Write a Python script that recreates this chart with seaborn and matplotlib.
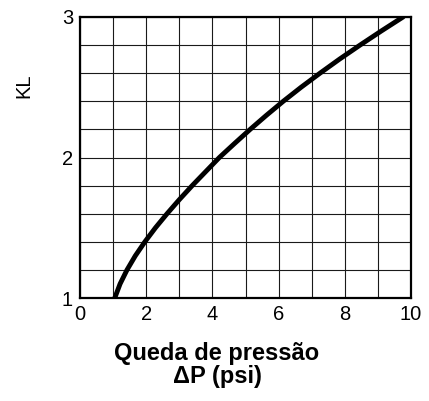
import matplotlib
matplotlib.use("Agg")
import matplotlib.pyplot as plt
from matplotlib.ticker import MultipleLocator
import seaborn as sns

# values
delta_p = [1.05, 1.21, 1.42, 1.67, 1.96, 2.28, 2.63, 3.00, 3.39, 3.80, 4.21,
           4.67, 5.14, 5.63, 6.14, 6.68, 7.25, 7.84, 8.46, 9.10, 9.76]
kl = [1.0, 1.1, 1.2, 1.3, 1.4, 1.5, 1.6, 1.7, 1.8, 1.9, 2.0,
      2.1, 2.2, 2.3, 2.4, 2.5, 2.6, 2.7, 2.8, 2.9, 3.0]
x_ticks = [0, 2, 4, 6, 8, 10]
y_ticks = [1, 2, 3]

sns.set_style("white")
plt.rcParams['font.family'] = ['Liberation Sans', 'DejaVu Sans']

fig = plt.figure(figsize=(4.29, 4.01), dpi=100)
ax = fig.add_axes([80 / 429, 1 - 298 / 401, 331 / 429, 281 / 401])

sns.lineplot(x=delta_p, y=kl, color='black', linewidth=3.5, ax=ax, sort=False)

ax.set_xlim(0, 10)
ax.set_ylim(1, 3)
ax.set_xticks(x_ticks)
ax.set_yticks(y_ticks)
ax.xaxis.set_minor_locator(MultipleLocator(1))
ax.yaxis.set_minor_locator(MultipleLocator(0.2))
ax.grid(which='both', color='#1a1a1a', linewidth=0.8)
ax.set_axisbelow(True)
ax.tick_params(which='both', length=0, labelsize=14.5, colors='black', pad=5)

for s in ax.spines.values():
    s.set_color('black')
    s.set_linewidth(1.6)

ax.set_ylabel('KL', fontsize=14.5, color='black')
ax.yaxis.set_label_coords(-0.142, 0.755)
ax.set_xlabel('Queda de pressão\nΔP (psi)', fontsize=17, fontweight='bold',
              color='black', linespacing=1.0)
ax.xaxis.set_label_coords(0.414, -0.155)

fig.savefig('out.png', dpi=100)
